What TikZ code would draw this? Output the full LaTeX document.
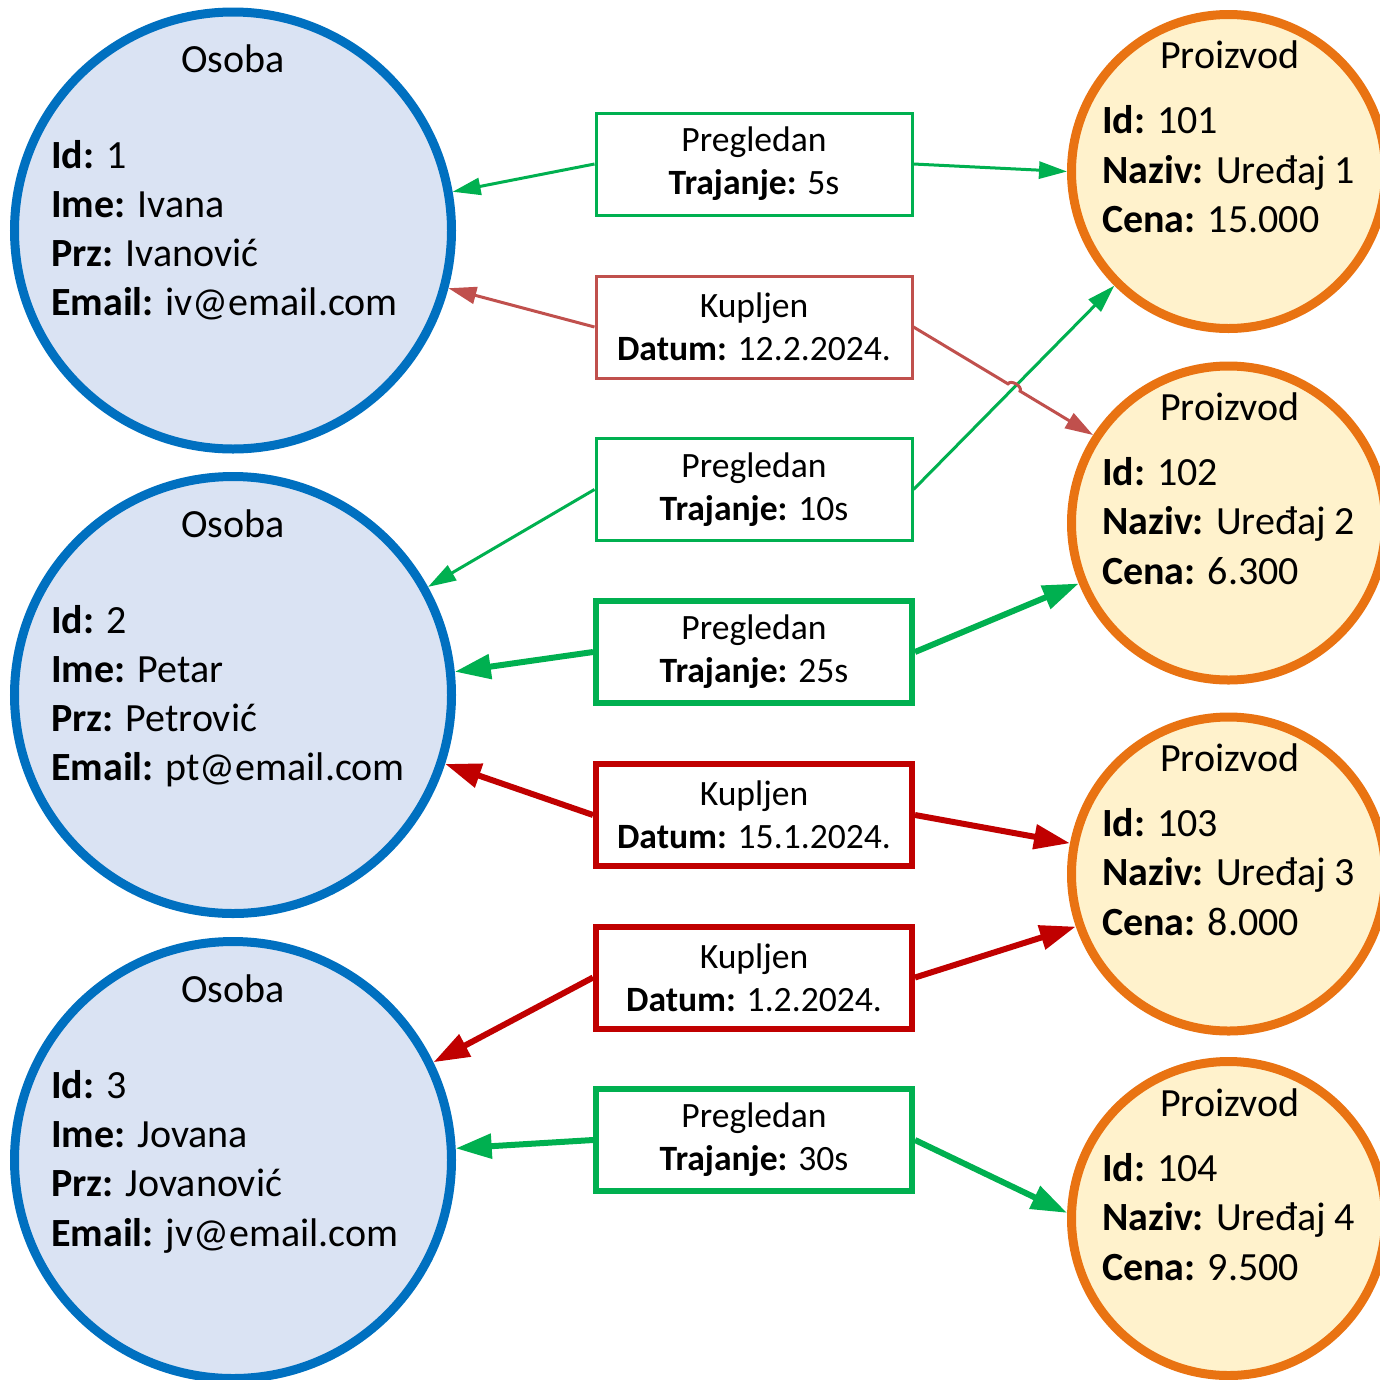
\documentclass[tikz,border=0pt]{standalone}
\usepackage{fontspec}
\setmainfont{Carlito}
\usetikzlibrary{arrows.meta,calc,intersections}

\definecolor{osobaline}{HTML}{0070C0}
\definecolor{osobafill}{HTML}{DAE3F3}
\definecolor{proizline}{HTML}{E97312}
\definecolor{proizfill}{HTML}{FFF2CC}
\definecolor{viewgreen}{HTML}{00B050}
\definecolor{buyred}{HTML}{C0504D}
\definecolor{buydark}{HTML}{C00000}

\tikzset{
  osoba/.style={circle, draw=osobaline, fill=osobafill, line width=9pt,
    minimum size=437pt, inner sep=0pt},
  proizvod/.style={circle, draw=proizline, fill=proizfill, line width=9pt,
    minimum size=314pt, inner sep=0pt},
  bigtxt/.style={font=\fontsize{40}{49}\selectfont, inner sep=0pt},
  title/.style={bigtxt, anchor=base},
  attr/.style={bigtxt, anchor=base west},
  rel/.style={rectangle, fill=white, minimum width=316pt, minimum height=102pt,
    inner sep=0pt, align=center, font=\fontsize{35.6}{43}\selectfont},
  relthin/.style={rel, line width=3pt},
  relthick/.style={rel, line width=6pt},
  thinarrow/.style={line width=3pt, -{Triangle[length=28pt,width=17pt]}},
  thickarrow/.style={line width=6pt, -{Triangle[length=36pt,width=24pt]}},
}

\begin{document}
\begin{tikzpicture}[x=1pt,y=-1pt]
\useasboundingbox (0,0) rectangle (1380,1379);

% persons
\node[osoba] (o1) at (233,230.5) {};
\node[osoba] (o2) at (233,695) {};
\node[osoba] (o3) at (233,1160) {};

% products
\node[proizvod] (q1) at (1228.5,171.5) {};
\node[proizvod] (q2) at (1228.5,523) {};
\node[proizvod] (q3) at (1228.5,874) {};
\node[proizvod] (q4) at (1228.5,1218.5) {};

% relationship boxes
\node[relthin, draw=viewgreen] (r1) at (754,164)
  {Pregledan\\\textbf{Trajanje:} 5s};
\node[relthin, draw=buyred] (k1) at (754,327)
  {Kupljen\\\textbf{Datum:} 12.2.2024.};
\node[relthin, draw=viewgreen] (r2) at (754,489.5)
  {Pregledan\\\textbf{Trajanje:} 10s};
\node[relthick, draw=viewgreen] (r3) at (754,652)
  {Pregledan\\\textbf{Trajanje:} 25s};
\node[relthick, draw=buydark] (k2) at (754,815)
  {Kupljen\\\textbf{Datum:} 15.1.2024.};
\node[relthick, draw=buydark] (k3) at (754,977.5)
  {Kupljen\\\textbf{Datum:} 1.2.2024.};
\node[relthick, draw=viewgreen] (r4) at (754,1140)
  {Pregledan\\\textbf{Trajanje:} 30s};

% connectors
\draw[thinarrow, viewgreen] (r1.west) -- (o1.10.6);
\draw[thinarrow, viewgreen] (r1.east) -- (q1.180);

\draw[thinarrow, buyred] (k1.west) -- (o1.-15.2);

\draw[thinarrow, viewgreen, name path=pre2] (r2.east) -- (q1.225.8);
\draw[thinarrow, viewgreen] (r2.west) -- (o2.29.6);

% purchase line hops over the crossing view line
\path[name path=kup1] (k1.east) -- (q2.147.5);
\path[name intersections={of=kup1 and pre2, by=hop}];
\draw[thinarrow, buyred] (k1.east) -- ($(hop)!7pt!(k1.east)$)
  to[bend left=90] ($(hop)!7pt!(q2.147.5)$) -- (q2.147.5);

\draw[thickarrow, viewgreen] (r3.west) -- (o2.6.5);
\draw[thickarrow, viewgreen] (r3.east) -- (q2.202.5);

\draw[thickarrow, buydark] (k2.west) -- (o2.-18.7);
\draw[thickarrow, buydark] (k2.east) -- (q3.169.1);

\draw[thickarrow, buydark] (k3.west) -- (o3.26.7);
\draw[thickarrow, buydark] (k3.east) -- (q3.199.3);

\draw[thickarrow, viewgreen] (r4.west) -- (o3.3.1);
\draw[thickarrow, viewgreen] (r4.east) -- (q4.178.2);

% person attributes
\node[title] (o1t) at (233,72.5) {Osoba};
\node[attr] (o1a) at (51,168) {\textbf{Id:} 1};
\node[attr] (o1b) at (51,217.5) {\textbf{Ime:} Ivana};
\node[attr] (o1c) at (51,266.5) {\textbf{Prz:} Ivanović};
\node[attr] (o1d) at (51,315.5) {\textbf{Email:} iv@email.com};

\node[title] (o2t) at (233,537) {Osoba};
\node[attr] (o2a) at (51,633) {\textbf{Id:} 2};
\node[attr] (o2b) at (51,682) {\textbf{Ime:} Petar};
\node[attr] (o2c) at (51,731) {\textbf{Prz:} Petrović};
\node[attr] (o2d) at (51,780) {\textbf{Email:} pt@email.com};

\node[title] (o3t) at (233,1002) {Osoba};
\node[attr] (o3a) at (51,1098) {\textbf{Id:} 3};
\node[attr] (o3b) at (51,1147.5) {\textbf{Ime:} Jovana};
\node[attr] (o3c) at (51,1196.5) {\textbf{Prz:} Jovanović};
\node[attr] (o3d) at (51,1246) {\textbf{Email:} jv@email.com};

% product attributes
\node[title] (q1t) at (1230,68) {Proizvod};
\node[attr] (q1a) at (1102,133) {\textbf{Id:} 101};
\node[attr] (q1b) at (1102,183) {\textbf{Naziv:} Uređaj 1};
\node[attr] (q1c) at (1102,232) {\textbf{Cena:} 15.000};

\node[title] (q2t) at (1230,420) {Proizvod};
\node[attr] (q2a) at (1102,485) {\textbf{Id:} 102};
\node[attr] (q2b) at (1102,534) {\textbf{Naziv:} Uređaj 2};
\node[attr] (q2c) at (1102,584) {\textbf{Cena:} 6.300};

\node[title] (q3t) at (1230,771) {Proizvod};
\node[attr] (q3a) at (1102,836) {\textbf{Id:} 103};
\node[attr] (q3b) at (1102,885) {\textbf{Naziv:} Uređaj 3};
\node[attr] (q3c) at (1102,935) {\textbf{Cena:} 8.000};

\node[title] (q4t) at (1230,1116) {Proizvod};
\node[attr] (q4a) at (1102,1181) {\textbf{Id:} 104};
\node[attr] (q4b) at (1102,1230) {\textbf{Naziv:} Uređaj 4};
\node[attr] (q4c) at (1102,1280) {\textbf{Cena:} 9.500};
\end{tikzpicture}
\end{document}
